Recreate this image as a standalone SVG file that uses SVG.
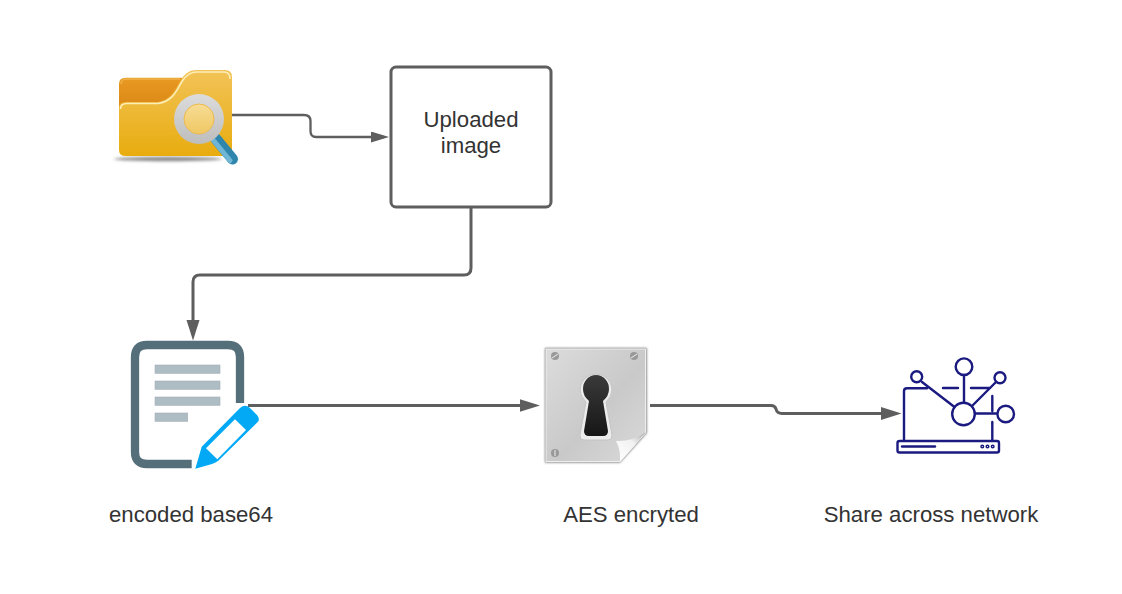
<svg xmlns="http://www.w3.org/2000/svg" width="1122" height="594" viewBox="0 0 1122 594">
<style>
text{font-family:"Liberation Sans",Arial,sans-serif;font-size:22.2px;fill:#333;text-anchor:middle}
.c{fill:none;stroke:#5e5e5e;stroke-width:3}
.n{fill:none;stroke:#1a1a80;stroke-width:2.4;stroke-linecap:round}
.b{fill:#aebcc4;stroke:#a4b0b6;stroke-width:.6}
</style>
<defs>
<linearGradient id="fb" x1="0" y1="0" x2="0" y2="1"><stop offset="0" stop-color="#f2c358"/><stop offset="1" stop-color="#e8ac0e"/></linearGradient>
<linearGradient id="bk" x1="0" y1="0" x2="0" y2="1"><stop offset="0" stop-color="#e99a22"/><stop offset="1" stop-color="#c46e06"/></linearGradient>
<linearGradient id="pl" x1="0" y1="0" x2="1" y2="1"><stop offset="0" stop-color="#dcdcdc"/><stop offset=".55" stop-color="#c9c9c9"/><stop offset="1" stop-color="#dadada"/></linearGradient>
<linearGradient id="cu" x1="0" y1="1" x2="1" y2="0"><stop offset="0" stop-color="#ffffff"/><stop offset=".6" stop-color="#f2f2f2"/><stop offset="1" stop-color="#a8a8a8"/></linearGradient>
<linearGradient id="ring" x1="0" y1="0" x2="0" y2="1"><stop offset="0" stop-color="#dcdcdc"/><stop offset="1" stop-color="#bdbdbd"/></linearGradient>
<linearGradient id="gl" x1="0" y1="0" x2="0" y2="1"><stop offset="0" stop-color="#f6dc94"/><stop offset="1" stop-color="#f0c864"/></linearGradient>
<linearGradient id="kh" x1="0" y1="0" x2="0" y2="1"><stop offset="0" stop-color="#3a3a3a"/><stop offset="1" stop-color="#161616"/></linearGradient>
<filter id="sh" x="-20%" y="-300%" width="140%" height="700%"><feGaussianBlur stdDeviation="1.4"/></filter>
<filter id="ps" x="-10%" y="-10%" width="120%" height="120%"><feGaussianBlur stdDeviation="1.2"/></filter>
<marker id="a" markerUnits="userSpaceOnUse" markerWidth="22" markerHeight="14" refX="15" refY="6.500" orient="auto"><path d="M0 0L20.500 6.500L0 13Z" fill="#5e5e5e"/></marker>
<marker id="s" markerUnits="userSpaceOnUse" markerWidth="19" markerHeight="12" refX="13" refY="5.500" orient="auto"><path d="M0 0L18 5.500L0 11Z" fill="#5e5e5e"/></marker>
</defs>
<g id="connectors">
<path class="c" style="stroke-width:2.3" d="M232 115H304Q310.500 115 310.500 121V131Q310.500 137 316 137H384" marker-end="url(#s)"/>
<path class="c" d="M471 208V268Q471 275 464 275H200Q193 275 193 282V335" marker-end="url(#a)"/>
<path class="c" d="M248 405.500H534.500" marker-end="url(#a)"/>
<path class="c" d="M650 405.500H771Q775 405.500 776 409Q777 413.500 782 413.500H896" marker-end="url(#a)"/>
</g>
<g id="folder">
<ellipse cx="168" cy="159" rx="54" ry="2.200" fill="#8a8a8a" filter="url(#sh)"/>
<path d="M119 150V84Q119 77.700 126 77.700H182V125H119Z" fill="url(#bk)"/>
<path d="M121 84Q121 79 127 79H180" fill="none" stroke="#f3bd60" stroke-width="1"/>
<path d="M119 150V108Q119 102 126 102H158C172 100 176 88 181 80C185 73 190 70 197 70H225Q232 70 232 77V150Q232 156 225 156H126Q119 156 119 150Z" fill="url(#fb)"/>
<path d="M120.500 109Q120.500 103.500 127 103.500H158C173 101.500 177 90 182 81.500C186 75 191 72 197 72H224Q230 72 230 79" fill="none" stroke="#fdeeb8" stroke-width="1.500"/>
<path d="M216 139L232.500 159" stroke="#2f86ad" stroke-width="11" stroke-linecap="round" fill="none"/>
<path d="M213.500 140.500L230 160.500" stroke="#6fb6d6" stroke-width="5" stroke-linecap="round" fill="none"/>
<circle cx="199" cy="119" r="25" fill="url(#ring)"/>
<circle cx="199" cy="119" r="15" fill="url(#gl)" stroke="#edb94e" stroke-width="1"/>
</g>
<g id="uploaded-image">
<rect x="391" y="67" width="160" height="140" rx="5" fill="#fff" stroke="#5e5e5e" stroke-width="3"/>
<text x="471" y="126.500">Uploaded</text>
<text x="471" y="153">image</text>
</g>
<g id="encoded-base64">
<path d="M191.700 464H147Q135 464 135 452V357Q135 345 147 345H228Q240 345 240 357V403" fill="none" stroke="#546e7a" stroke-width="8.300"/>
<rect class="b" x="155" y="365" width="65" height="8.300"/>
<rect class="b" x="155" y="381" width="65" height="8.300"/>
<rect class="b" x="155" y="397" width="65" height="8.300"/>
<rect class="b" x="155" y="413" width="32.700" height="8.300"/>
<path d="M195.300 468.700L201.700 446.700L240 408Q246 403 251 409L257 415Q261 420 256.700 423L218 461Q215 463 212 464Z" fill="#03a9f4"/>
<path d="M206 448.300L235 419.300L246 430L217.300 459.300Z" fill="#fff"/>
<text x="191" y="522">encoded base64</text>
</g>
<g id="aes-encrypted">
<path d="M545 348H646.700V433L620 462.500H545Z" fill="#777" filter="url(#ps)"/>
<path d="M546 349H645.500V433L620 461.500H546Z" fill="url(#pl)" stroke="#eee" stroke-width="1"/>
<path d="M646 432L620 462Q621 450 616 441Q632 442 646 432Z" fill="url(#cu)"/>
<circle cx="555" cy="356" r="4" fill="#999"/><path d="M552 358L558 354" stroke="#eee"/>
<circle cx="634" cy="356" r="4" fill="#999"/><path d="M631 358L637 354" stroke="#eee"/>
<circle cx="555" cy="453" r="4" fill="#999"/><path d="M555 450V456" stroke="#eee"/>
<path d="M580 390A16 16 0 1 1 612 390Q612 396 606 402L612 435Q612 440 607 440H585Q580 440 580 435L586 402Q580 396 580 390Z" fill="#ececec" stroke="#c4c4c4"/>
<path d="M583 389A13 14 0 1 1 609 389Q609 396 603 401L608 431Q608 436 603 436H589Q584 436 584 431L589 401Q583 396 583 389Z" fill="url(#kh)"/>
<text x="631" y="522">AES encryted</text>
</g>
<g id="network">
<circle class="n" cx="963.500" cy="414" r="11.300"/>
<circle class="n" cx="964" cy="366.700" r="8.300"/>
<circle class="n" cx="916.700" cy="376.700" r="5.500"/>
<circle class="n" cx="1000" cy="377.700" r="5.500"/>
<circle class="n" cx="1005.700" cy="414" r="8.300"/>
<path class="n" d="M922 382L954.500 407M964 375V402.500M996 382L972 406M975 413.500H997M904 440V391Q904 388.300 907 388.300H927M943 388H958M971 388H990M992.300 396V411M992.300 422V440"/>
<rect class="n" x="897.500" y="441" width="101.500" height="11.500" rx="2"/>
<path class="n" d="M902 446.500H935"/>
<circle class="n" style="stroke-width:1.500" cx="982.300" cy="446.500" r="1.300"/>
<circle class="n" style="stroke-width:1.500" cx="987.500" cy="446.500" r="1.300"/>
<circle class="n" style="stroke-width:1.500" cx="992.700" cy="446.500" r="1.300"/>
<text x="931" y="522">Share across network</text>
</g>
</svg>
